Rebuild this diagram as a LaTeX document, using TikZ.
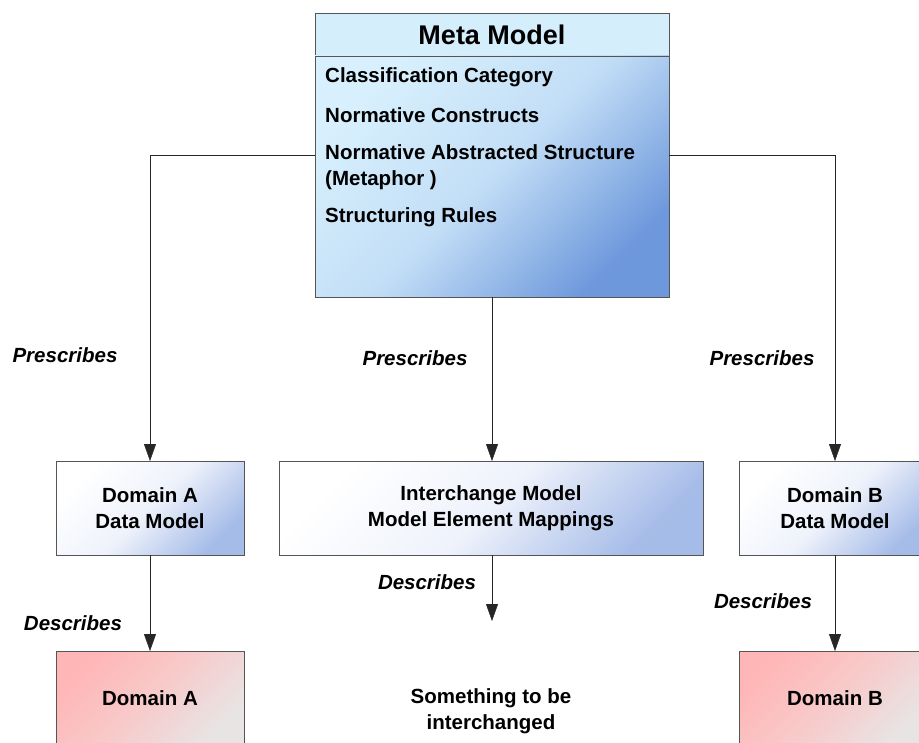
\documentclass[tikz,border=0pt]{standalone}
\usepackage{fontspec}
\setmainfont{Liberation Sans}
\usetikzlibrary{arrows.meta,positioning}

\definecolor{headblue}{HTML}{D4EEFC}
\definecolor{bodylight}{HTML}{D8F0FD}
\definecolor{bodymid}{HTML}{C2DEF6}
\definecolor{bodydark}{HTML}{6E98DC}
\definecolor{dmmid}{HTML}{EEF2FB}
\definecolor{dmdark}{HTML}{A6BCE8}
\definecolor{pinklight}{HTML}{FFB6B6}
\definecolor{pinkmid}{HTML}{F8CACA}
\definecolor{pinkdark}{HTML}{E8E4E4}
\definecolor{edgegray}{HTML}{555555}

\begin{document}
\begin{tikzpicture}[x=1pt, y=1pt, thin, font=\fontsize{20.5}{26}\selectfont\bfseries]
        \tikzstyle{metahead}=[rectangle,draw=edgegray,fill=headblue,minimum width=354pt,minimum height=43pt,inner sep=0pt,outer sep=0pt,font=\fontsize{27}{30}\selectfont\bfseries]
        \tikzstyle{metabody}=[rectangle,draw=edgegray,shading=axis,top color=bodylight,bottom color=bodydark,middle color=bodymid,shading angle=45,minimum width=354pt,minimum height=241pt,inner sep=0pt,outer sep=0pt]
        \tikzstyle{item}=[anchor=west,inner sep=0pt,align=left]
        \tikzstyle{datamodel}=[rectangle,draw=edgegray,shading=axis,top color=white,bottom color=dmdark,middle color=dmmid,shading angle=45,minimum height=94pt,inner sep=0pt,outer sep=0pt,align=center]
        \tikzstyle{domainbox}=[rectangle,draw=edgegray,shading=axis,top color=pinklight,bottom color=pinkdark,middle color=pinkmid,shading angle=45,minimum height=94pt,inner sep=0pt,outer sep=0pt,align=center]
        \tikzstyle{verb}=[font=\fontsize{20.5}{26}\selectfont\bfseries\itshape,inner sep=0pt]
        \tikzstyle{rel}=[draw=black!85,-{Triangle[length=17pt,width=12pt]}]

        \useasboundingbox (0,0) rectangle (919,-743);

        % meta model
        \node[metahead] (meta) at (492,-34.5) {Meta Model};
        \node[metabody, below=0pt of meta] (metabody) {};
        \node[item] (category) at (325,-77) {Classification Category};
        \node[item] (constructs) at (325,-115) {Normative Constructs};
        \node[item] (structure) at (325,-167) {Normative Abstracted Structure\\(Metaphor )};
        \node[item] (rules) at (325,-217) {Structuring Rules};

        % models
        \node[datamodel, minimum width=188pt] (dmA) at (150,-508) {Domain A\\Data Model};
        \node[datamodel, minimum width=424pt] (ich) at (491,-508) {Interchange Model\\Model Element Mappings};
        \node[datamodel, minimum width=192pt] (dmB) at (835,-508) {Domain B\\Data Model};

        % domains
        \node[domainbox, minimum width=188pt] (domA) at (150,-698) {Domain A};
        \node[domainbox, minimum width=192pt] (domB) at (835,-698) {Domain B};
        \node[align=center, inner sep=0pt] (thing) at (491,-711) {Something to be\\interchanged};
        \coordinate (ichend) at (492,-621);

        \draw[rel] ([yshift=21.5pt]metabody.west) -| (dmA);
        \draw[rel] (metabody.south) -- (metabody.south |- ich.north);
        \draw[rel] ([yshift=21.5pt]metabody.east) -| (dmB);
        \draw[rel] (dmA) -- (domA);
        \draw[rel] (ich.south -| ichend) -- (ichend);
        \draw[rel] (dmB) -- (domB);

        \node[verb] (prescA) at (65,-355) {Prescribes};
        \node[verb] (prescI) at (415,-358) {Prescribes};
        \node[verb] (prescB) at (762,-358) {Prescribes};
        \node[verb] (descA) at (73,-623) {Describes};
        \node[verb] (descI) at (427,-582) {Describes};
        \node[verb] (descB) at (763,-601) {Describes};
\end{tikzpicture}
\end{document}
